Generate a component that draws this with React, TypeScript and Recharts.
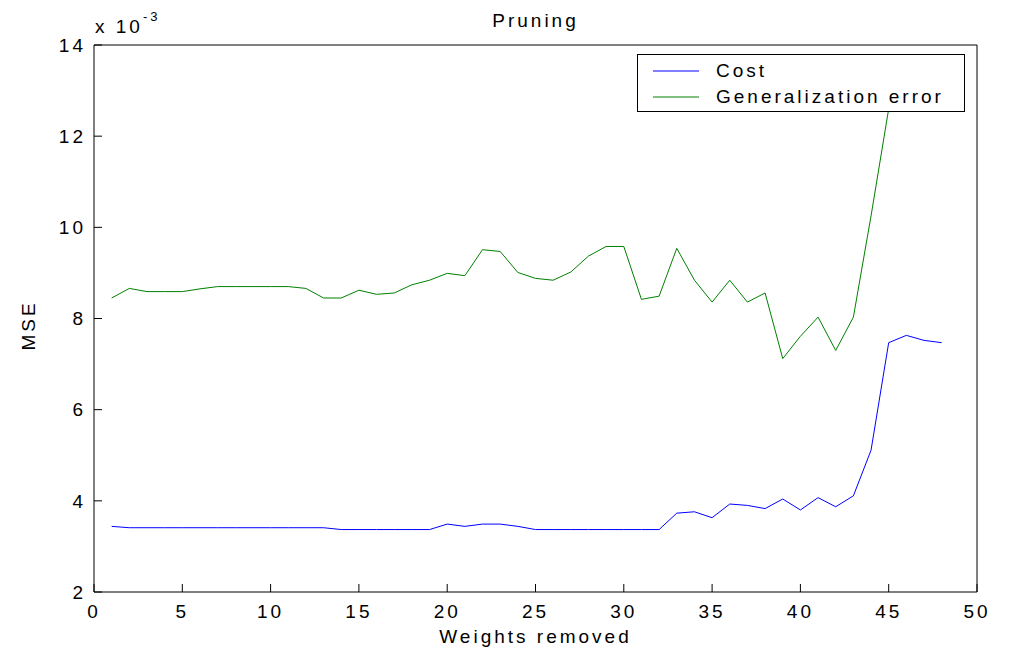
import React from 'react';
import { LineChart, Line, XAxis, YAxis, Legend } from 'recharts';

// weights removed (x), values in units of 1e-3
const removed = [
  1, 2, 3, 4, 5, 6, 7, 8, 9, 10, 11, 12, 13, 14, 15, 16, 17, 18, 19, 20, 21, 22, 23, 24,
  25, 26, 27, 28, 29, 30, 31, 32, 33, 34, 35, 36, 37, 38, 39, 40, 41, 42, 43, 44, 45, 46, 47, 48,
];

const cost = [
  3.44, 3.41, 3.41, 3.41, 3.41, 3.41, 3.41, 3.41, 3.41, 3.41, 3.41, 3.41, 3.41,
  3.37, 3.37, 3.37, 3.37, 3.37, 3.37,
  3.49, 3.44, 3.49, 3.49, 3.44, 3.37,
  3.37, 3.37, 3.37, 3.37, 3.37, 3.37, 3.37,
  3.73, 3.76, 3.63, 3.93, 3.9, 3.83, 4.04, 3.8, 4.07, 3.87, 4.11, 5.11, 7.47, 7.63, 7.52, 7.47,
];

const genError = [
  8.45, 8.66, 8.59, 8.59, 8.59, 8.65, 8.7, 8.7, 8.7, 8.7, 8.7, 8.66, 8.45, 8.45, 8.62, 8.53,
  8.56, 8.74, 8.84, 8.99, 8.94, 9.51, 9.47, 9.01, 8.88, 8.84, 9.02, 9.37, 9.58, 9.58, 8.42, 8.49,
  9.54, 8.84, 8.36, 8.84, 8.36, 8.56, 7.12, 7.61, 8.03, 7.3, 8.03, 10.25, 12.6, 13.0, 13.1, 13.2,
];

const xTicks = [0, 5, 10, 15, 20, 25, 30, 35, 40, 45, 50];
const yTicks = [2, 4, 6, 8, 10, 12, 14];

const data = removed.map((r, i) => ({ removed: r, cost: cost[i], gen: genError[i] }));

const FONT = '"Liberation Sans", Arial, sans-serif';
const FS = 19;
const tickStyle = { fill: '#000', fontSize: FS, fontFamily: FONT };

const LegendBox = ({ payload }: any) => (
  <div
    style={{
      boxSizing: 'border-box',
      width: 328,
      height: 58,
      border: '1px solid #000',
      background: '#fff',
      padding: '3px 0 0 15px',
    }}
  >
    {(payload || []).map((p: any) => (
      <div key={p.value} style={{ display: 'flex', alignItems: 'center', height: 26 }}>
        <svg width={46} height={2} style={{ marginRight: 17 }}>
          <line x1={0} x2={46} y1={1} y2={1} stroke={p.color} strokeWidth={1} />
        </svg>
        <span style={{ fontSize: FS, lineHeight: '26px', color: '#000' }}>{p.value}</span>
      </div>
    ))}
  </div>
);

const MseLabel = ({ viewBox }: any) => {
  const x = viewBox.x + 28;
  const y = viewBox.y + viewBox.height / 2 + 7;
  return (
    <text
      x={x}
      y={y}
      transform={`rotate(-90 ${x} ${y})`}
      textAnchor="middle"
      dominantBaseline="central"
      fontSize={FS}
      fill="#000"
    >
      MSE
    </text>
  );
};

export default function App() {
  return (
    <div
      style={{
        position: 'absolute',
        left: 0,
        top: 0,
        width: 1009,
        height: 651,
        background: '#fff',
        fontFamily: FONT,
        letterSpacing: '3px',
      }}
    >
      <LineChart width={1009} height={651} data={data} margin={{ top: 44, right: 31, bottom: 0, left: 0 }}>
        <XAxis
          xAxisId="x"
          dataKey="removed"
          type="number"
          domain={[0, 50]}
          ticks={xTicks}
          height={59}
          stroke="#000"
          tickSize={-8}
          tickMargin={21}
          tick={tickStyle}
          label={{ value: 'Weights removed', position: 'insideBottom', offset: 8, fill: '#000', fontSize: FS }}
        />
        <XAxis
          xAxisId="top"
          orientation="top"
          type="number"
          domain={[0, 50]}
          ticks={xTicks}
          height={1}
          stroke="#000"
          tickSize={-8}
          tick={false}
          label={{ value: 'Pruning', position: 'top', offset: 17, fill: '#000', fontSize: FS }}
        />
        <YAxis
          yAxisId="y"
          type="number"
          domain={[2, 14]}
          ticks={yTicks}
          allowDataOverflow
          width={94}
          stroke="#000"
          tickSize={-8}
          tickMargin={16}
          tick={tickStyle}
          label={MseLabel}
        />
        <YAxis
          yAxisId="right"
          orientation="right"
          type="number"
          domain={[2, 14]}
          ticks={yTicks}
          allowDataOverflow
          width={1}
          stroke="#000"
          tickSize={-8}
          tick={false}
        />
        <Legend
          layout="vertical"
          align="center"
          verticalAlign="middle"
          content={LegendBox}
          wrapperStyle={{ left: 637, top: 54, width: 328, height: 58 }}
        />
        <Line
          xAxisId="x"
          yAxisId="y"
          type="linear"
          dataKey="cost"
          name="Cost"
          stroke="#0000ff"
          strokeWidth={1}
          dot={false}
          isAnimationActive={false}
        />
        <Line
          xAxisId="x"
          yAxisId="y"
          type="linear"
          dataKey="gen"
          name="Generalization error"
          stroke="#008000"
          strokeWidth={1}
          dot={false}
          isAnimationActive={false}
        />
      </LineChart>
      <svg
        width={200}
        height={40}
        style={{ position: 'absolute', left: 0, top: 0, pointerEvents: 'none' }}
      >
        <text x={95} y={33} fontSize={FS} fill="#000">
          x 10
          <tspan dy={-12} fontSize={13}>
            -3
          </tspan>
        </text>
      </svg>
    </div>
  );
}
